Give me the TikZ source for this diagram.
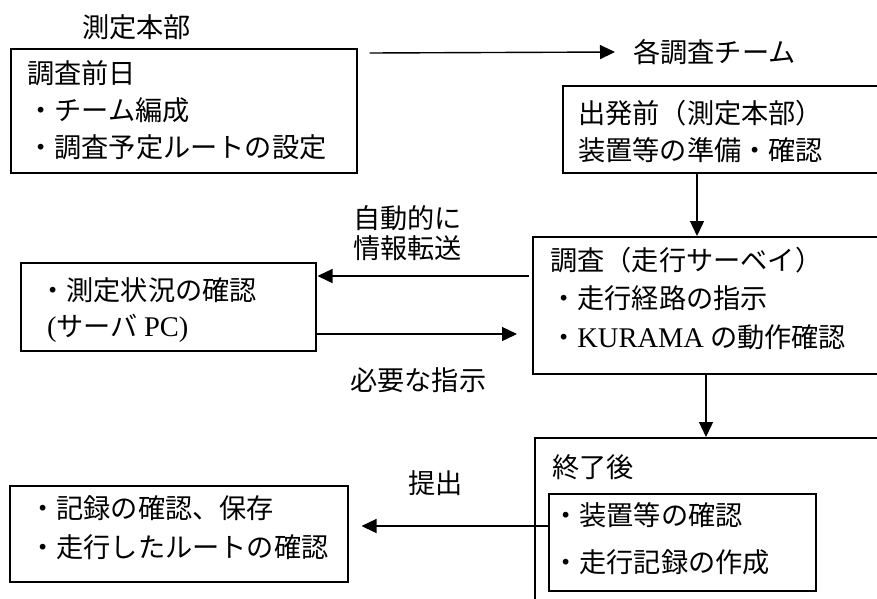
\documentclass[tikz,border=0pt]{standalone}
\usepackage{fontspec}
\setmainfont{Liberation Serif}
\newfontfamily\jp{Noto Sans CJK JP}
\newcommand\lat[1]{{\fontsize{28.5}{32}\rmfamily #1}}
\usetikzlibrary{arrows.meta,calc}
\begin{document}
\begin{tikzpicture}[x=1pt,y=-1pt,
  box/.style={draw, line width=1.5pt, inner sep=0pt, anchor=north west},
  txt/.style={inner sep=0pt, anchor=west, font=\fontsize{27.2}{31}\selectfont\jp},
  arr/.style={line width=1.4pt, -{Triangle[length=15pt,width=14pt]}}]
\useasboundingbox (0,0) rectangle (877,598);
\clip (0,0) rectangle (877,598);

% boxes
\node[box, minimum width=346pt, minimum height=124pt] (b1) at (10,48) {};
\node[box, minimum width=340pt, minimum height=87pt] (b2) at (562,85) {};
\node[box, minimum width=370pt, minimum height=137pt] (b3) at (532,236) {};
\node[box, minimum width=370pt, minimum height=220pt] (b4) at (534,437) {};
\node[box, minimum width=267pt, minimum height=97pt] (in) at (548,493) {};
\node[box, minimum width=338pt, minimum height=96pt] (b5) at (9,485) {};
\node[box, minimum width=295pt, minimum height=88pt] (b6) at (20,262) {};

% texts
\node[txt] (hq) at (82,27) {測定本部};
\node[txt] (team) at (633,52) {各調査チーム};
\node[txt] (t11) at (27,73) {調査前日};
\node[txt] (t12) at (27,110) {・チーム編成};
\node[txt] (t13) at (27,147) {・調査予定ルートの設定};
\node[txt] (t21) at (578,113) {出発前（測定本部）};
\node[txt] (t22) at (578,150) {装置等の準備・確認};
\node[txt] (l1) at (353,218) {自動的に};
\node[txt] (l2) at (353,248) {情報転送};
\node[txt] (t31) at (550,260) {調査（走行サーベイ）};
\node[txt] (t32) at (550,298) {・走行経路の指示};
\node[txt] (t33) at (550,337) {・\lat{KURAMA} の動作確認};
\node[txt] (t61) at (39,290) {・測定状況の確認};
\node[txt] (t62) at (47,328) {\lat{(}サーバ \lat{PC)}};
\node[txt] (l3) at (350,380) {必要な指示};
\node[txt] (t41) at (552,467) {終了後};
\node[txt] (t42) at (552,515) {・装置等の確認};
\node[txt] (t43) at (552,562) {・走行記録の作成};
\node[txt] (l4) at (408,483) {提出};
\node[txt] (t51) at (29,508) {・記録の確認、保存};
\node[txt] (t52) at (29,547) {・走行したルートの確認};

% connectors
\coordinate (a1s) at ($(b1.north east)+(12,5)$);
\coordinate (a1e) at ($(team.west)+(-18,0)$);
\draw[arr] (a1s) -- (a1e);
\draw[arr] ($(b2.south west)+(135,0)$) -- ($(b3.north west)+(165,0)$);
\draw[arr] ($(b3.south west)+(174,0)$) -- ($(b4.north west)+(172,0)$);
\draw[arr] ($(b3.north west)+(-3,40)$) -- ($(b6.north east)+(1,14)$);
\draw[arr] ($(b6.north east)+(-2,72)$) -- ($(b3.north west)+(-15,98)$);
\draw[arr] ($(in.north west)+(0,33)$) -- ($(b5.north east)+(13,41)$);
\end{tikzpicture}
\end{document}
